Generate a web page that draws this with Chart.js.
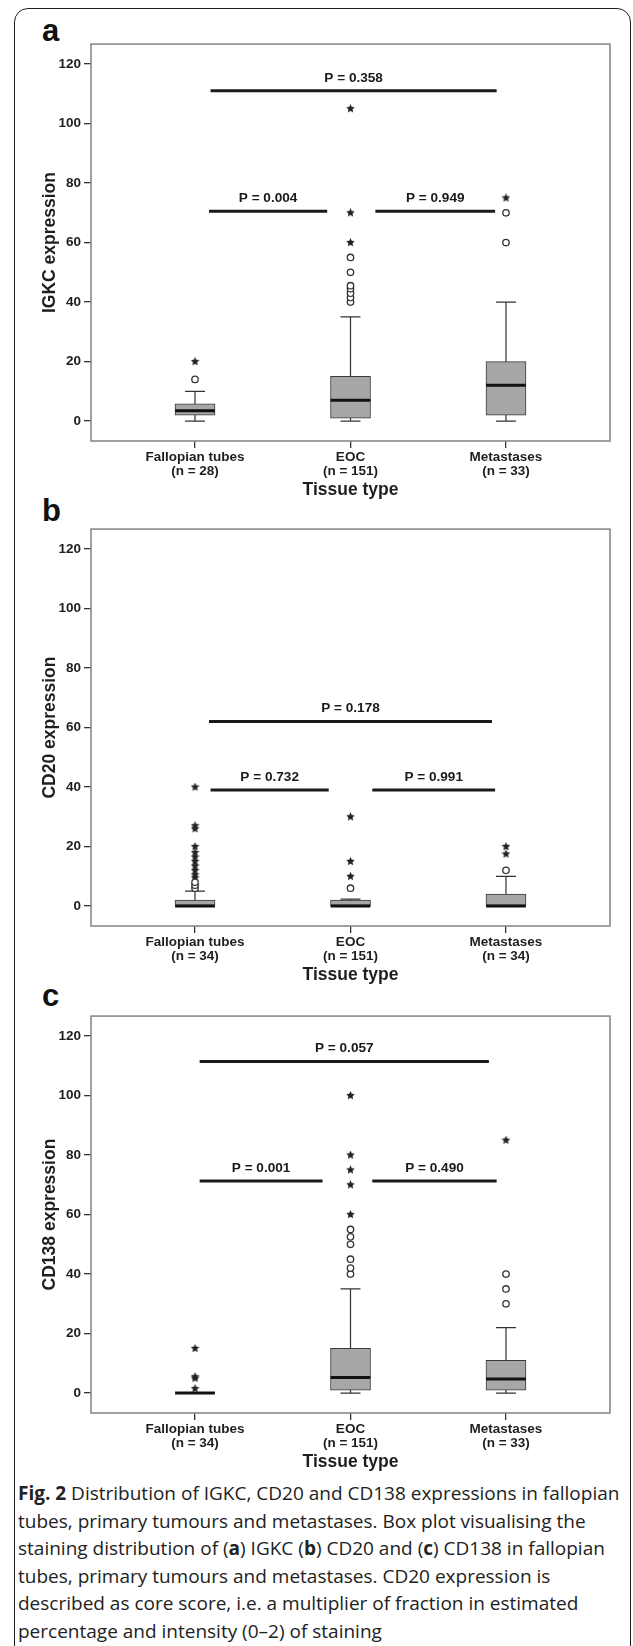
<!DOCTYPE html>
<html>
<head>
<meta charset="utf-8">
<script src="https://cdn.jsdelivr.net/npm/chart.js"></script>
<style>
html, body { margin: 0; padding: 0; overflow: hidden; background: #fff; }
body { width: 633px; height: 1646px; position: relative; }
#frame { position: absolute; left: 14px; top: 8px; width: 615px; height: 1700px; border: 1.6px solid #1e1e1e; border-radius: 14px; }
.lab { position: absolute; left: 42px; font: bold 31px/30px 'Liberation Sans', Arial, sans-serif; color: #111; }
canvas { position: absolute; left: 0; }
#caption { position: absolute; left: 18px; top: 1480px; font-family: 'Open Sans', 'Noto Sans', sans-serif; font-size: 19px; line-height: 27.5px; color: #222; white-space: nowrap; }
</style>
</head>
<body>
<div id="frame"></div>
<div class="lab" style="top:16px">a</div>
<div class="lab" style="top:496px">b</div>
<div class="lab" style="top:981px">c</div>
<canvas id="chartA" width="633" height="468" style="top:33px"></canvas>
<canvas id="chartB" width="633" height="468" style="top:518px"></canvas>
<canvas id="chartC" width="633" height="468" style="top:1005px"></canvas>
<div id="caption"><b>Fig. 2</b> Distribution of IGKC, CD20 and CD138 expressions in fallopian<br>tubes, primary tumours and metastases. Box plot visualising the<br>staining distribution of (<b>a</b>) IGKC (<b>b</b>) CD20 and (<b>c</b>) CD138 in fallopian<br>tubes, primary tumours and metastases. CD20 expression is<br>described as core score, i.e. a multiplier of fraction in estimated<br>percentage and intensity (0&ndash;2) of staining</div>

<script>
//======================== DATA ========================//
var categories = ['Fallopian tubes', 'EOC', 'Metastases'];
var yTicks = [0, 20, 40, 60, 80, 100, 120];

// panel a - IGKC
var igkcN = [28, 151, 33];
var igkcMin = [0, 0, 0];
var igkcQ1 = [2, 1, 2];
var igkcMedian = [3.5, 7, 12];
var igkcQ3 = [5.8, 15, 20];
var igkcMax = [10, 35, 40];
var igkcCircles = [[14], [40, 41.5, 43, 44.5, 45.5, 50, 55], [60, 70]];
var igkcStars = [[20], [60, 70, 105], [75]];
var igkcPText = ['P = 0.358', 'P = 0.004', 'P = 0.949'];
var igkcPLevel = [111, 70.5, 70.5];
var igkcPFrom = [1.1, 1.09, 2.16];
var igkcPTo = [2.94, 1.85, 2.93];

// panel b - CD20
var cd20N = [34, 151, 34];
var cd20Min = [0, 0, 0];
var cd20Q1 = [0, 0, 0];
var cd20Median = [0, 0, 0];
var cd20Q3 = [2, 2, 4];
var cd20Max = [5, 2.3, 10];
var cd20Circles = [[6, 7, 8], [6], [12]];
var cd20Stars = [[9.5, 10.5, 12, 13.5, 15, 16.5, 18, 20, 26, 27, 40], [10, 15, 30], [17.5, 20]];
var cd20PText = ['P = 0.178', 'P = 0.732', 'P = 0.991'];
var cd20PLevel = [62, 39, 39];
var cd20PFrom = [1.09, 1.1, 2.14];
var cd20PTo = [2.91, 1.86, 2.93];

// panel c - CD138
var cd138N = [34, 151, 33];
var cd138Min = [0, 0, 0];
var cd138Q1 = [0, 1, 1];
var cd138Median = [0, 5.2, 4.7];
var cd138Q3 = [0, 15, 11];
var cd138Max = [0, 35, 22];
var cd138Circles = [[], [40, 42, 45, 50, 52.5, 55], [30, 35, 40]];
var cd138Stars = [[1.5, 5, 5.5, 15], [60, 70, 75, 80, 100], [85]];
var cd138PText = ['P = 0.057', 'P = 0.001', 'P = 0.490'];
var cd138PLevel = [111.4, 71.3, 71.3];
var cd138PFrom = [1.03, 1.03, 2.14];
var cd138PTo = [2.89, 1.82, 2.94];

//======================== DRAWING ========================//
var SANS = "'Liberation Sans', Arial, sans-serif";
var BOX_HALF = 0.128;
var CAP_HALF = 0.064;

function makeStar(size, color){
    var c = document.createElement('canvas');
    c.width = size; c.height = size;
    var g = c.getContext('2d');
    var R = size / 2, r = R * 0.48;
    g.beginPath();
    for(var i = 0; i < 10; i++){
        var a = -Math.PI / 2 + i * Math.PI / 5;
        var rr = (i % 2) ? r : R;
        g.lineTo(R + rr * Math.cos(a), R + rr * Math.sin(a));
    }
    g.closePath();
    g.fillStyle = color;
    g.fill();
    return c;
}
var starImg = makeStar(9, '#222');

var framePlugin = {
    id: 'frame',
    afterDraw: function(chart){
        var a = chart.chartArea, ctx = chart.ctx;
        ctx.save();
        ctx.strokeStyle = '#8a8a8a';
        ctx.lineWidth = 1.6;
        ctx.strokeRect(a.left, a.top, a.right - a.left, a.bottom - a.top);
        ctx.restore();
    }
};

var pLabelPlugin = {
    id: 'plabels',
    afterDatasetsDraw: function(chart){
        var p = chart.options.plugins.plabels;
        var ctx = chart.ctx;
        ctx.save();
        ctx.font = 'bold 13.6px ' + SANS;
        ctx.fillStyle = '#1a1a1a';
        ctx.textAlign = 'center';
        ctx.textBaseline = 'middle';
        for(var i = 0; i < p.text.length; i++){
            var x = chart.scales.x.getPixelForValue((p.from[i] + p.to[i]) / 2);
            var y = chart.scales.y.getPixelForValue(p.level[i]) - 13;
            ctx.fillText(p.text[i], x, y);
        }
        ctx.restore();
    }
};

function drawPanel(id, yTitle, n, mins, q1, med, q3, maxs, circles, stars, pText, pLevel, pFrom, pTo){
    var boxes = [], whiskers = [], medians = [], circ = [], star = [], pLines = [];
    for(var i = 0; i < 3; i++){
        var x = i + 1;
        boxes.push({x: x, y: [q1[i], q3[i]]});
        whiskers.push({x: x, y: mins[i]}, {x: x, y: maxs[i]}, {x: x, y: null});
        whiskers.push({x: x - CAP_HALF, y: maxs[i]}, {x: x + CAP_HALF, y: maxs[i]}, {x: x, y: null});
        whiskers.push({x: x - CAP_HALF, y: mins[i]}, {x: x + CAP_HALF, y: mins[i]}, {x: x, y: null});
        medians.push({x: x - BOX_HALF, y: med[i]}, {x: x + BOX_HALF, y: med[i]}, {x: x, y: null});
        circles[i].forEach(function(v){ circ.push({x: x, y: v}); });
        stars[i].forEach(function(v){ star.push({x: x, y: v}); });
    }
    for(var j = 0; j < pText.length; j++){
        pLines.push({x: pFrom[j], y: pLevel[j]}, {x: pTo[j], y: pLevel[j]}, {x: pTo[j], y: null});
    }

    new Chart(id, {
        type: 'bar',
        data: {
            datasets: [{
                type: 'line', data: whiskers, order: 4,
                borderColor: '#333', borderWidth: 1.2, pointRadius: 0, spanGaps: false
            },{
                type: 'bar', data: boxes, order: 3,
                backgroundColor: '#a7a7a7', borderColor: '#3a3a3a', borderWidth: 1,
                borderSkipped: false, barThickness: 40
            },{
                type: 'line', data: pLines, order: 2,
                borderColor: '#1a1a1a', borderWidth: 3, pointRadius: 0, spanGaps: false, borderCapStyle: 'butt'
            },{
                type: 'line', data: medians, order: 1,
                borderColor: '#111', borderWidth: 3, pointRadius: 0, spanGaps: false, borderCapStyle: 'butt'
            },{
                type: 'scatter', data: circ, order: 0,
                pointStyle: 'circle', pointRadius: 3.2, borderWidth: 1.3,
                borderColor: '#333', backgroundColor: '#fff'
            },{
                type: 'scatter', data: star, order: 0,
                pointStyle: starImg, pointRadius: 4.5
            }]
        },
        options: {
            responsive: false,
            animation: false,
            layout: { padding: { left: 0, right: 23, top: 10, bottom: 0 } },
            plugins: {
                legend: { display: false },
                tooltip: { enabled: false },
                plabels: { text: pText, level: pLevel, from: pFrom, to: pTo }
            },
            scales: {
                x: {
                    type: 'linear', min: 0.331, max: 3.669, offset: false,
                    afterBuildTicks: function(s){ s.ticks = [1, 2, 3].map(function(v){ return {value: v}; }); },
                    afterFit: function(s){ s.height = 60; },
                    grid: { offset: false, drawOnChartArea: false, drawTicks: true, tickLength: 7, color: '#333', lineWidth: 1.3 },
                    border: { display: false },
                    ticks: {
                        padding: 3, maxRotation: 0, autoSkip: false, color: '#1e1e1e',
                        font: { family: SANS, size: 13.5, weight: 'bold', lineHeight: 0.985 },
                        callback: function(v){ return [categories[v - 1], '(n = ' + n[v - 1] + ')']; }
                    },
                    title: {
                        display: true, text: 'Tissue type', color: '#1e1e1e',
                        font: { family: SANS, size: 17.5, weight: 'bold', lineHeight: 1.2 },
                        padding: { top: 0, bottom: 0 }
                    }
                },
                y: {
                    min: -6.7, max: 126.7,
                    afterBuildTicks: function(s){ s.ticks = yTicks.map(function(v){ return {value: v}; }); },
                    afterFit: function(s){ s.width = 91; },
                    grid: { drawOnChartArea: false, drawTicks: true, tickLength: 7, color: '#333', lineWidth: 1.3 },
                    border: { display: false },
                    ticks: {
                        padding: 3, color: '#1e1e1e',
                        font: { family: SANS, size: 13.5, weight: 'bold' }
                    },
                    title: {
                        display: true, text: yTitle, color: '#1e1e1e',
                        font: { family: SANS, size: 17.5, weight: 'bold', lineHeight: 1.2 },
                        padding: { top: 39.5, bottom: 0 }
                    }
                }
            }
        },
        plugins: [framePlugin, pLabelPlugin]
    });
}

drawPanel('chartA', 'IGKC expression', igkcN, igkcMin, igkcQ1, igkcMedian, igkcQ3, igkcMax, igkcCircles, igkcStars, igkcPText, igkcPLevel, igkcPFrom, igkcPTo);
drawPanel('chartB', 'CD20 expression', cd20N, cd20Min, cd20Q1, cd20Median, cd20Q3, cd20Max, cd20Circles, cd20Stars, cd20PText, cd20PLevel, cd20PFrom, cd20PTo);
drawPanel('chartC', 'CD138 expression', cd138N, cd138Min, cd138Q1, cd138Median, cd138Q3, cd138Max, cd138Circles, cd138Stars, cd138PText, cd138PLevel, cd138PFrom, cd138PTo);
</script>
</body>
</html>
